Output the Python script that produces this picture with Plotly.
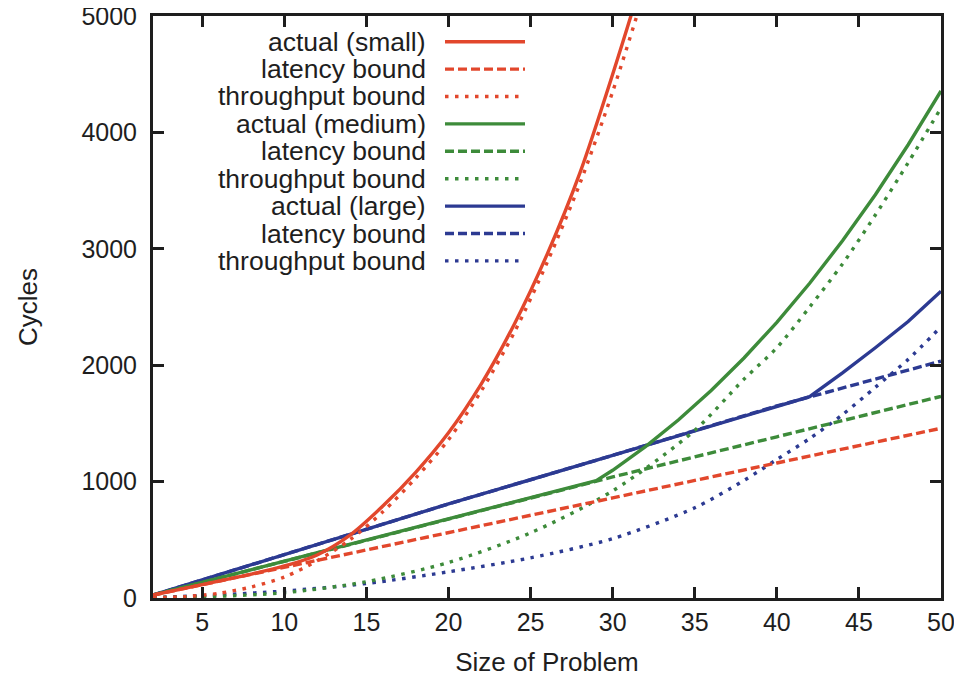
import plotly.graph_objects as go

# ---------------- data ----------------
x_lat = [2, 10, 20, 30, 40, 50]
red_lat = [25, 262, 560, 860, 1160, 1458]
green_lat = [25, 315, 680, 1040, 1385, 1732]
blue_lat = [25, 372, 808, 1225, 1650, 2035]

x_red = [2, 4, 6, 8, 10, 12, 14, 16, 18, 20, 22, 24, 26, 28, 30, 32, 34]
red_thr = [2, 12, 40, 95, 180, 320, 500, 740, 1030, 1360, 1780, 2280, 2880, 3560, 4350, 5250, 6300]
red_act = [25, 85, 145, 205, 275, 370, 540, 790, 1080, 1420, 1840, 2350, 2950, 3650, 4500, 5420, 6450]

x_thr = [2, 5, 10, 15, 20, 25, 30, 35, 38, 40, 42, 44, 46, 48, 50]
green_thr = [3, 10, 45, 140, 305, 560, 920, 1440, 1880, 2150, 2500, 2870, 3290, 3740, 4210]
blue_thr = [5, 20, 60, 125, 225, 345, 510, 775, 1010, 1190, 1370, 1575, 1810, 2050, 2330]

x_green_act = [2, 10, 20, 29, 30, 32, 34, 36, 38, 40, 42, 44, 46, 48, 50]
green_act = [25, 315, 680, 1008, 1097, 1301, 1529, 1783, 2062, 2368, 2704, 3069, 3465, 3894, 4356]

x_blue_act = [2, 10, 20, 30, 40, 42, 44, 46, 48, 50]
blue_act = [25, 372, 808, 1225, 1650, 1730, 1935, 2150, 2375, 2635]

x_ticks = [5, 10, 15, 20, 25, 30, 35, 40, 45, 50]
y_ticks = [0, 1000, 2000, 3000, 4000, 5000]

legend_labels = ["actual (small)", "latency bound", "throughput bound",
                 "actual (medium)", "latency bound", "throughput bound",
                 "actual (large)", "latency bound", "throughput bound"]

# ---------------- styles ----------------
RED = "#E2472C"
GREEN = "#3D8B3A"
BLUE = "#2C3A92"
SOLID = "solid"
DASH = "9px,4px"
DOT = "3.5px,6.5px"
LW = 3.4
FONT = "Liberation Sans, Arial, Helvetica, sans-serif"
TXT = "#1e1e1e"

# (x, y, colour, dash, smooth?)
series = [
    (x_red, red_act, RED, SOLID, True),
    (x_lat, red_lat, RED, DASH, False),
    (x_red, red_thr, RED, DOT, True),
    (x_green_act, green_act, GREEN, SOLID, False),
    (x_lat, green_lat, GREEN, DASH, False),
    (x_thr, green_thr, GREEN, DOT, True),
    (x_blue_act, blue_act, BLUE, SOLID, False),
    (x_lat, blue_lat, BLUE, DASH, False),
    (x_thr, blue_thr, BLUE, DOT, True),
]

fig = go.Figure()
# draw in reverse so red lies on top like the reference
for (xs, ys, col, dash, smooth), name in reversed(list(zip(series, legend_labels))):
    fig.add_trace(go.Scatter(x=xs, y=ys, mode="lines", name=name,
                             line=dict(color=col, width=LW, dash=dash,
                                       shape="spline" if smooth else "linear",
                                       smoothing=0.8),
                             showlegend=False))

# the page offsets the figure by 8 px; plot area in page pixels
OFF = 8
L, R, T, B = 153, 941, 16, 598
W, H = 962, 679
def px(xp):
    return (xp - L) / (R - L)
def py(yp):
    return (B - yp) / (B - T)

row_y = [41.7, 69.1, 96.5, 123.9, 151.3, 178.7, 206.1, 233.5, 260.9]
shapes = []
annotations = []
for (xs, ys, col, dash, smooth), label, yy in zip(series, legend_labels, row_y):
    annotations.append(dict(x=px(428), y=py(yy), xref="paper", yref="paper",
                            text=label, showarrow=False, xanchor="right", yanchor="middle",
                            font=dict(size=26.5, color=TXT, family=FONT)))
    shapes.append(dict(type="line", xref="paper", yref="paper",
                       x0=px(445), x1=px(525), y0=py(yy), y1=py(yy),
                       line=dict(color=col, width=LW, dash=dash)))

fig.update_layout(
    width=W, height=H,
    margin=dict(l=L - OFF, r=W - R + OFF, t=T - OFF, b=H - B + OFF, autoexpand=False),
    paper_bgcolor="white", plot_bgcolor="white",
    font=dict(family=FONT, size=25, color=TXT),
    shapes=shapes, annotations=annotations,
    xaxis=dict(range=[2, 50], tickvals=x_ticks, ticks="inside", ticklen=11, tickwidth=2.5,
               tickcolor="#1e1e1e", showline=True, linecolor="#1e1e1e", linewidth=3,
               mirror="allticks", showgrid=False, zeroline=False, automargin=False,
               ticklabeloverflow="allow",
               tickfont=dict(size=25, family=FONT, color=TXT), ticklabelstandoff=0,
               title=dict(text="Size of Problem", font=dict(size=26, family=FONT, color=TXT), standoff=18)),
    yaxis=dict(range=[0, 5000], tickvals=y_ticks, ticks="inside", ticklen=11, tickwidth=2.5,
               tickcolor="#1e1e1e", showline=True, linecolor="#1e1e1e", linewidth=3,
               mirror="allticks", showgrid=False, zeroline=False, automargin=False,
               ticklabeloverflow="allow",
               tickfont=dict(size=25, family=FONT, color=TXT), ticklabelstandoff=8,
               title=dict(text="Cycles", font=dict(size=26, family=FONT, color=TXT), standoff=37)),
)

fig.write_html("out.html")
